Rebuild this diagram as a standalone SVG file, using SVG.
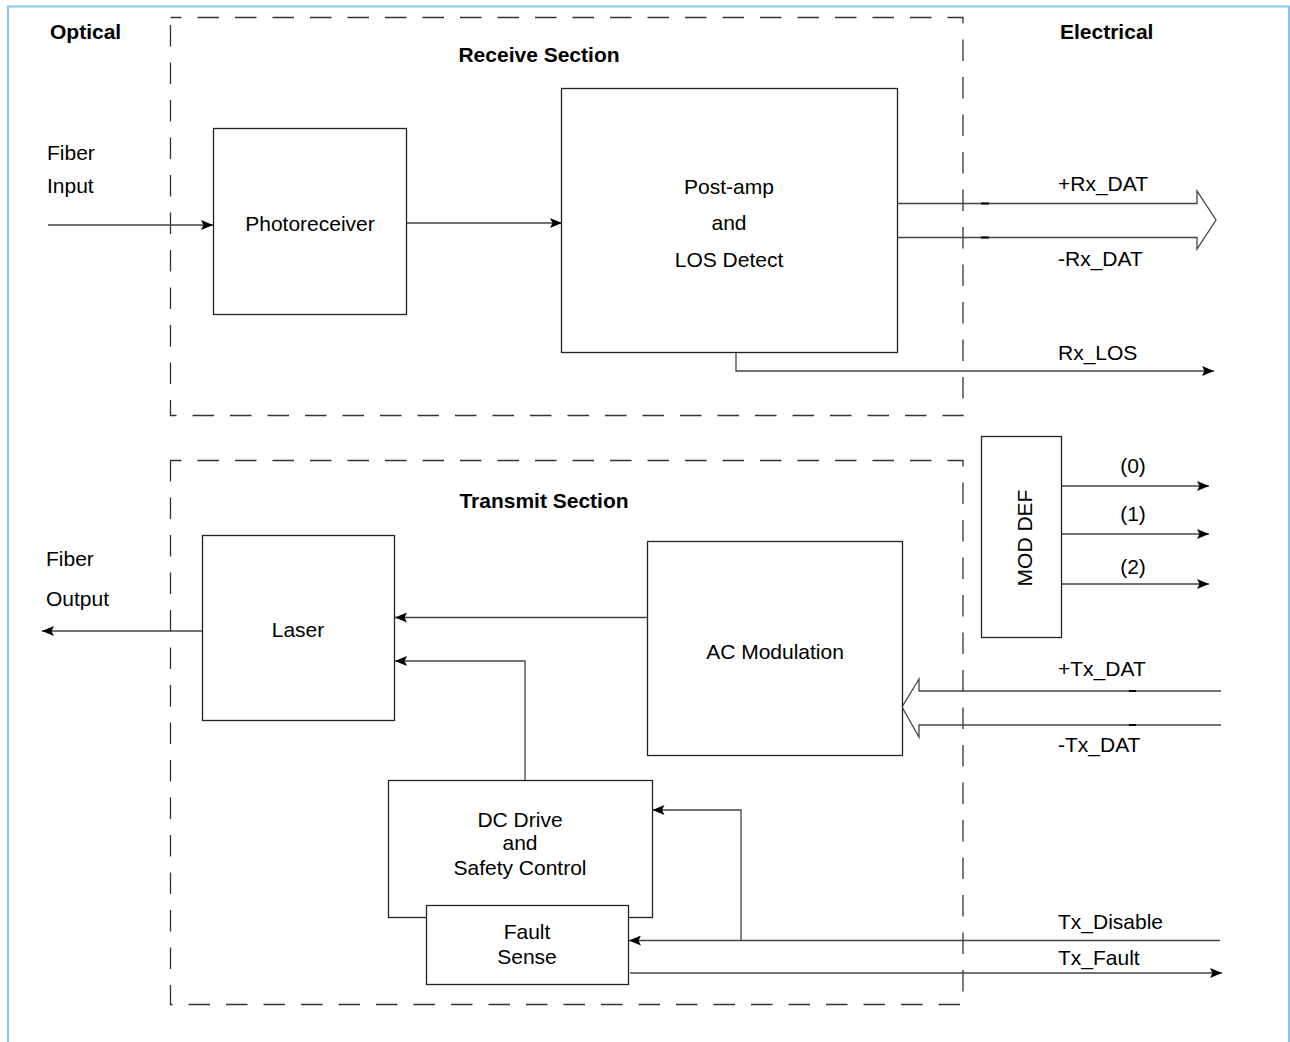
<svg xmlns="http://www.w3.org/2000/svg" width="1290" height="1042" viewBox="0 0 1290 1042">
<style>
text{font-family:"Liberation Sans",Arial,sans-serif;font-size:21px;fill:#000}
.b{font-weight:bold}
.m{text-anchor:middle}
.box{fill:#fff;stroke:#222;stroke-width:1.3}
.sec{fill:none;stroke:#333;stroke-width:1.3;stroke-dasharray:21.5 16;stroke-dashoffset:10.5}
.ln{fill:none;stroke:#444;stroke-width:1.3}
.tick{stroke:#000;stroke-width:2}
</style>
<defs>
<marker id="ah" markerUnits="userSpaceOnUse" markerWidth="14" markerHeight="10" refX="12" refY="5" orient="auto">
<path d="M0,0 L12,5 L0,10 L2.5,5 Z" fill="#000"/>
</marker>
</defs>
<rect width="1290" height="1042" fill="#fff"/>
<path d="M8,1042 V6.5 H1289 V1042" fill="none" stroke="#86c6fb" stroke-width="2"/>

<g id="receive-section">
<rect class="sec" x="170.5" y="17.5" width="792.5" height="398"/>
<text class="b m" x="539" y="62">Receive Section</text>
</g>
<g id="transmit-section">
<rect class="sec" x="170.5" y="460.5" width="792.5" height="544"/>
<text class="b m" x="544" y="508">Transmit Section</text>
</g>

<g id="labels">
<text class="b" x="50" y="39">Optical</text>
<text class="b" x="1060" y="39">Electrical</text>
<text x="47" y="160">Fiber</text>
<text x="47" y="193">Input</text>
<text x="46" y="566">Fiber</text>
<text x="46" y="606">Output</text>
<text x="1058" y="191">+Rx_DAT</text>
<text x="1058" y="266">-Rx_DAT</text>
<text x="1058" y="360">Rx_LOS</text>
<text class="m" x="1133" y="473">(0)</text>
<text class="m" x="1133" y="521">(1)</text>
<text class="m" x="1133" y="574">(2)</text>
<text x="1058" y="676">+Tx_DAT</text>
<text x="1058" y="752">-Tx_DAT</text>
<text x="1058" y="929">Tx_Disable</text>
<text x="1058" y="965">Tx_Fault</text>
</g>

<g id="connectors">
<path class="ln" d="M48,225 H213" marker-end="url(#ah)"/>
<path class="ln" d="M406.5,223 H562" marker-end="url(#ah)"/>
<path class="ln" d="M897.5,203.5 H1197 V191 L1216,220 L1197,249 V237.5 H897.5"/>
<line class="tick" x1="981" y1="203.5" x2="989" y2="203.5"/>
<line class="tick" x1="981" y1="237.5" x2="989" y2="237.5"/>
<path class="ln" d="M736,352.5 V371 H1214" marker-end="url(#ah)"/>
<path class="ln" d="M1061.5,486 H1209" marker-end="url(#ah)"/>
<path class="ln" d="M1061.5,534 H1209" marker-end="url(#ah)"/>
<path class="ln" d="M1061.5,584 H1209" marker-end="url(#ah)"/>
<path class="ln" d="M1221,691 H919 V679 L902,707 L919,737 V725 H1221"/>
<line class="tick" x1="1129" y1="691" x2="1136" y2="691"/>
<line class="tick" x1="1129" y1="725" x2="1136" y2="725"/>
<path class="ln" d="M202.5,631 H42" marker-end="url(#ah)"/>
<path class="ln" d="M647.5,617.5 H395" marker-end="url(#ah)"/>
<path class="ln" d="M525,780.5 V661 H395" marker-end="url(#ah)"/>
<path class="ln" d="M1220,940.5 H629" marker-end="url(#ah)"/>
<path class="ln" d="M741,940.5 V810 H652.5" marker-end="url(#ah)"/>
<path class="ln" d="M630,973 H1222" marker-end="url(#ah)"/>
</g>

<g id="photoreceiver">
<rect class="box" x="213.5" y="128.5" width="193" height="186"/>
<text class="m" x="310" y="231">Photoreceiver</text>
</g>
<g id="postamp">
<rect class="box" x="561.5" y="88.5" width="336" height="264"/>
<text class="m" x="729" y="194">Post-amp</text>
<text class="m" x="729" y="230">and</text>
<text class="m" x="729" y="267">LOS Detect</text>
</g>
<g id="moddef">
<rect class="box" x="981.5" y="436.5" width="80" height="201"/>
<text class="m" transform="translate(1032,538) rotate(-90)">MOD DEF</text>
</g>
<g id="laser">
<rect class="box" x="202.5" y="535.5" width="192" height="185"/>
<text class="m" x="298" y="637">Laser</text>
</g>
<g id="acmod">
<rect class="box" x="647.5" y="541.5" width="255" height="214"/>
<text class="m" x="775" y="659">AC Modulation</text>
</g>
<g id="dcdrive">
<rect class="box" x="388.5" y="780.5" width="264" height="137"/>
<text class="m" x="520" y="827">DC Drive</text>
<text class="m" x="520" y="850">and</text>
<text class="m" x="520" y="875">Safety Control</text>
</g>
<g id="faultsense">
<rect class="box" x="426.5" y="905.5" width="202" height="79"/>
<text class="m" x="527" y="939">Fault</text>
<text class="m" x="527" y="964">Sense</text>
</g>
</svg>
